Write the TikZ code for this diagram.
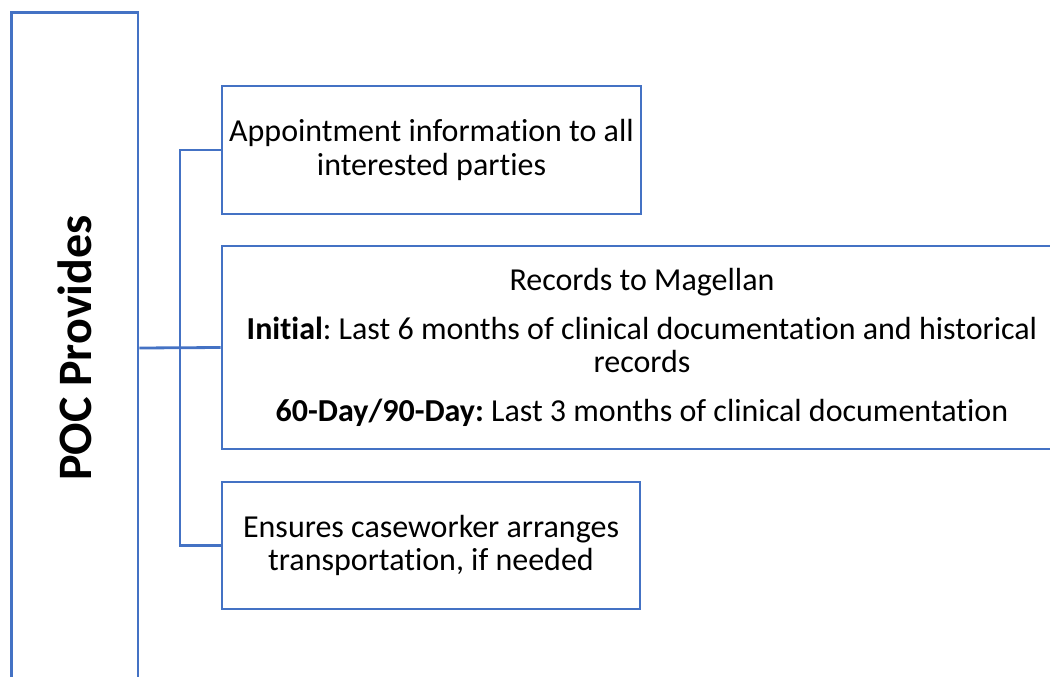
\documentclass[tikz,border=0pt]{standalone}
\usepackage{fontspec}
\setmainfont{Carlito}[Ligatures=NoCommon]
\definecolor{ofblue}{RGB}{68,114,196}
\frenchspacing
\begin{document}
\begin{tikzpicture}[x=1pt,y=-1pt,
  frame/.style={draw=ofblue, line width=2.8pt, fill=white, inner sep=0pt,
    align=center, font=\fontsize{32}{33.5}\selectfont},
  link/.style={draw=ofblue, line width=2.8pt}]
\useasboundingbox (0,0) rectangle (1050,677);
\clip (0,0) rectangle (1050,677);

% tall heading panel on the left
\node[frame, minimum width=126.5pt, minimum height=671pt] (poc) at (74.75,348) {};
\node[rotate=90, font=\fontsize{48}{50}\selectfont\bfseries] (poct) at (poc.center) {POC Provides};

% the three items
\node[frame, minimum width=419pt, minimum height=128pt] (b1) at (431.5,150)
  {Appointment information to all\\interested parties};
\node[frame, minimum width=840pt, minimum height=203pt] (b2) at (642,347.5)
  {Records to Magellan\\[15pt]
   \textbf{Initial}: Last 6 months of clinical documentation and historical\\
   records\\[15pt]
   \textbf{60-Day/90-Day:} Last 3 months of clinical documentation};
\node[frame, minimum width=418pt, minimum height=127pt] (b3) at (431,545.5)
  {Ensures caseworker arranges\\transportation, if needed};

% bracket connectors
\coordinate (j) at (180,348);
\draw[link] (poc.east) -- (b2.west);
\draw[link] (b1.west) -- (j |- b1.west) -- (j |- b3.west) -- (b3.west);
\end{tikzpicture}
\end{document}
